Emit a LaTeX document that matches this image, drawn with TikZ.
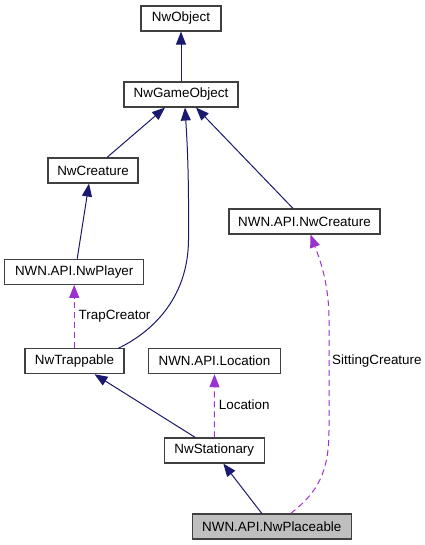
\documentclass[tikz,border=0pt]{standalone}
\usepackage{fontspec}
\setmainfont{Liberation Sans}
\usetikzlibrary{arrows.meta}
\definecolor{inh}{HTML}{191970}
\definecolor{use}{HTML}{9A32CD}
\definecolor{bord}{HTML}{404040}
\begin{document}
\begin{tikzpicture}[x=1pt,y=-1pt,
  cls/.style={draw=bord,line width=1.1pt,fill=white,minimum height=25pt,inner sep=0pt,font=\fontsize{13.4}{15}\selectfont},
  inhline/.style={draw=inh,line width=1pt,-{Triangle[length=13pt,width=10pt]}},
  useline/.style={draw=use,line width=1pt,dash pattern=on 6pt off 4pt,-{Triangle[length=13pt,width=10pt]}},
  lbl/.style={font=\fontsize{13.4}{15}\selectfont,inner sep=0pt,anchor=west}]
\useasboundingbox (0,0) rectangle (424,545);
\node[cls,minimum width=80pt] (obj) at (181,18.5) {NwObject};
\node[cls,minimum width=114pt] (go) at (181,94.5) {NwGameObject};
\node[cls,minimum width=90pt] (cr) at (93,170.5) {NwCreature};
\node[cls,minimum width=151pt] (acr) at (304.5,221.5) {NWN.API.NwCreature};
\node[cls,minimum width=139pt] (pl) at (74.2,271.8) {NWN.API.NwPlayer};
\node[cls,minimum width=99pt] (tr) at (74.5,361.2) {NwTrappable};
\node[cls,minimum width=132.5pt] (loc) at (214.5,361.2) {NWN.API.Location};
\node[cls,minimum width=100pt] (st) at (214.3,450.5) {NwStationary};
\node[cls,minimum width=159pt,fill=black!25] (plc) at (271.8,526.5) {NWN.API.NwPlaceable};
% inheritance
\draw[inhline] (go.north) -- (obj.south);
\draw[inhline] ([xshift=14pt]cr.north) -- ([xshift=-16pt]go.south);
\draw[inhline] ([xshift=-6pt]tr.north east) .. controls (150,333) and (188,300) .. (188.5,240) .. controls (189,170) and (187,140) .. ([xshift=4pt]go.south);
\draw[inhline] ([xshift=-11.5pt]acr.north) -- ([xshift=15pt]go.south);
\draw[inhline] ([xshift=3pt]pl.north) -- ([xshift=-4pt]cr.south);
\draw[inhline] ([xshift=-19pt]st.north) -- ([xshift=20pt]tr.south);
\draw[inhline] ([xshift=-10pt]plc.north) -- ([xshift=9pt]st.south);
% usage
\draw[useline] (tr.north -| pl.south) -- (pl.south) node[lbl,pos=0.5,xshift=4pt] {TrapCreator};
\draw[useline] (st.north) -- (loc.south) node[lbl,pos=0.52,xshift=4pt] {Location};
\draw[useline] ([xshift=19pt]plc.north) .. controls (318,492) and (329,472) .. (329,430) -- (329,320) .. controls (329,280) and (318,255) .. ([xshift=6pt]acr.south);
\node[lbl] (sc) at (332,361) {SittingCreature};
\end{tikzpicture}
\end{document}
